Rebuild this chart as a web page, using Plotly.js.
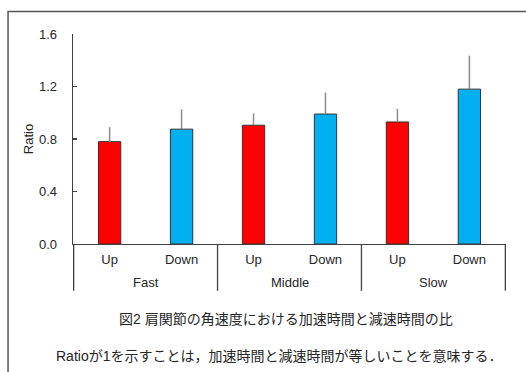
<!DOCTYPE html>
<html>
<head>
<meta charset="utf-8">
<script src="https://cdn.plot.ly/plotly-3.0.1.min.js"></script>
<style>
  html, body { margin: 0; padding: 0; background: #fff; }
  #chart { width: 526px; height: 372px; }
</style>
</head>
<body>
<div id="chart"></div>
<script>
// Speed condition (outer level) and movement direction (inner level)
const speeds = ['Fast', 'Fast', 'Middle', 'Middle', 'Slow', 'Slow'];
const directions = ['Up', 'Down', 'Up', 'Down', 'Up', 'Down'];
// Mean ratio of acceleration time to deceleration time, with SD
const ratios = [0.78, 0.875, 0.905, 0.99, 0.93, 1.18];
const sds = [0.11, 0.15, 0.09, 0.165, 0.10, 0.255];
const yTicks = [0, 0.4, 0.8, 1.2, 1.6];
const yTickText = ['0.0', '0.4', '0.8', '1.2', '1.6'];

const dirColor = { Up: '#FF0000', Down: '#00B0F0' };
const latin = 'Liberation Sans, Arial, Noto Sans CJK JP, sans-serif';
const textColor = '#262626';
const axisColor = '#404040';

// one category per bar; the axis shows only the direction
const cats = speeds.map((s, i) => s + ' ' + directions[i]);

// group spans (in category index units) for the outer labels and dividers
const groups = [];
speeds.forEach((s, i) => {
  const g = groups[groups.length - 1];
  if (g && g.name === s) g.end = i; else groups.push({ name: s, start: i, end: i });
});
const dividerBottom = -0.223;
const groupLabelY = -0.185;

const dividerPositions = [groups[0].start - 0.5].concat(groups.map(g => g.end + 0.5));

const trace = {
  type: 'bar',
  x: cats,
  y: ratios,
  marker: {
    color: directions.map(d => dirColor[d]),
    line: { color: '#333333', width: 1 }
  },
  error_y: {
    type: 'data',
    symmetric: false,
    array: sds,
    arrayminus: sds.map(() => 0),
    color: '#8c8c8c',
    thickness: 1.5,
    width: 0
  },
  hoverinfo: 'none'
};

const layout = {
  width: 526,
  height: 372,
  margin: { l: 73, r: 20, t: 33.5, b: 128 },
  paper_bgcolor: '#ffffff',
  plot_bgcolor: '#ffffff',
  showlegend: false,
  bargap: 0.69,
  font: { family: latin, size: 13, color: textColor },
  xaxis: {
    type: 'category',
    tickvals: cats,
    ticktext: directions,
    showline: true,
    linecolor: axisColor,
    linewidth: 1.3,
    ticks: '',
    showgrid: false,
    tickfont: { size: 13, color: textColor },
    ticklabelstandoff: 3,
    fixedrange: true
  },
  yaxis: {
    range: [0, 1.6],
    tickvals: yTicks,
    ticktext: yTickText,
    ticks: 'inside',
    ticklen: 4,
    tickwidth: 1.3,
    tickcolor: axisColor,
    showline: true,
    linecolor: axisColor,
    linewidth: 1.3,
    showgrid: false,
    zeroline: false,
    tickfont: { size: 13, color: textColor },
    ticklabelstandoff: 12,
    title: { text: 'Ratio', font: { size: 13, color: textColor }, standoff: 2 },
    fixedrange: true
  },
  shapes: [
    {
      type: 'rect', xref: 'paper', yref: 'paper',
      x0: -0.150, x1: 1.2, y0: -0.8, y1: 1.107,
      line: { color: '#555555', width: 1.5 },
      fillcolor: 'rgba(0,0,0,0)', layer: 'below'
    }
  ].concat(dividerPositions.map(x => ({
    type: 'line', xref: 'x', yref: 'paper',
    x0: x, x1: x, y0: 0, y1: dividerBottom,
    line: { color: axisColor, width: 1.3 }
  }))),
  annotations: groups.map(g => ({
    xref: 'x', yref: 'paper', x: (g.start + g.end) / 2, y: groupLabelY,
    xanchor: 'center', yanchor: 'middle', showarrow: false,
    text: g.name,
    font: { family: latin, size: 13, color: textColor }
  })).concat([
    {
      xref: 'paper', yref: 'paper', x: 0.492, y: -0.356,
      xanchor: 'center', yanchor: 'middle', showarrow: false,
      text: '図2 肩関節の角速度における加速時間と減速時間の比',
      font: { family: latin, size: 14, color: textColor }
    },
    {
      xref: 'paper', yref: 'paper', x: 0.475, y: -0.532,
      xanchor: 'center', yanchor: 'middle', showarrow: false,
      text: 'Ratioが1を示すことは，加速時間と減速時間が等しいことを意味する．',
      font: { family: latin, size: 14, color: textColor }
    }
  ])
};

Plotly.newPlot('chart', [trace], layout, { displayModeBar: false, staticPlot: true });
</script>
</body>
</html>
